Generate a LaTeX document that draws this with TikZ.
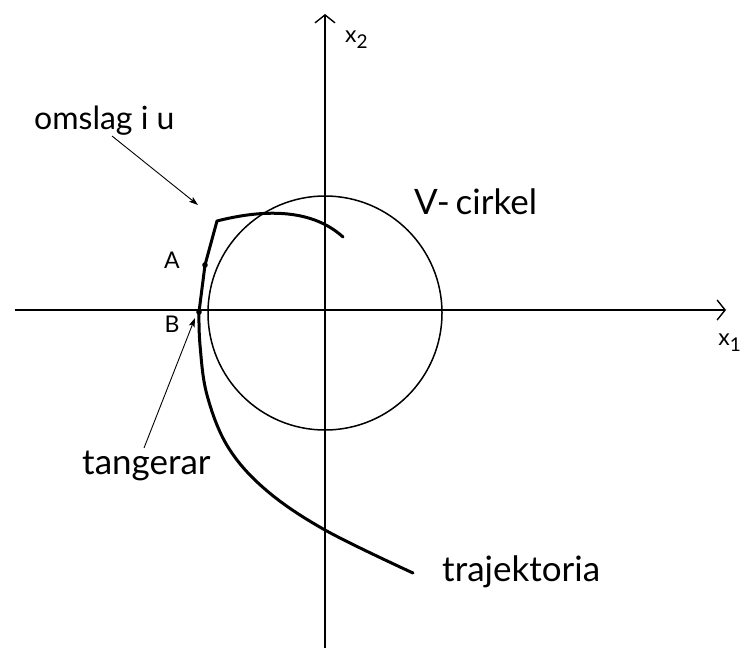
\documentclass[tikz,border=0pt]{standalone}
\usepackage{fontspec}
\setmainfont{Lato}
\usetikzlibrary{arrows.meta}
\tikzset{
  axis/.style={line width=1.4pt,-{Straight Barb[length=8pt,width=20pt,line width=1.4pt]}},
  traj/.style={line width=3pt,line cap=round,line join=round},
  vcirc/.style={line width=1.5pt},
  note/.style={line width=0.9pt,-{Stealth[length=9pt,width=6pt,inset=2pt]}},
  hand/.style={font=\fontsize{35}{40}\selectfont, inner sep=0pt},
  lab/.style={font=\fontsize{23}{26}\selectfont, inner sep=0pt}
}
\begin{document}
\begin{tikzpicture}[x=1pt,y=-1pt]
\useasboundingbox (0,0) rectangle (743,651);
% axes
\coordinate (xs) at (15,310);
\coordinate (xe) at (726,310);
\coordinate (ys) at (325,648);
\coordinate (ye) at (325,14);
\draw[axis] (xs) -- (xe);
\draw[axis] (ys) -- (ye);
\node[lab,anchor=east] (x1) at (741,343) {x\raisebox{-0.5ex}{\fontsize{19}{22}\selectfont 1}};
\node[lab,anchor=west] (x2) at (345,40) {x\raisebox{-0.5ex}{\fontsize{19}{22}\selectfont 2}};
% circle
\coordinate (O) at (325,313);
\draw[vcirc] (O) circle[radius=117];
\node[hand,anchor=west] (vc) at (414,202) {V-\,cirkel};
% trajectory
\coordinate (B) at (199,312);
\coordinate (A) at (205,265);
\coordinate (K) at (217,221);
\draw[traj] plot[smooth,tension=0.6] coordinates {(413,573) (325,530) (266,490) (228,447) (207,395) (200,345) (B)}
  -- (A) -- (K) .. controls (260,210) and (310,207) .. (343,237);
\fill (A) circle[radius=2.8];
\fill (B) circle[radius=2.8];
\node[lab] (Alab) at (172,260) {A};
\node[lab] (Blab) at (172,324) {B};
% annotations
\node[hand,anchor=west,font=\fontsize{32}{36}\selectfont] (oms) at (34,121) {omslag i u};
\node[hand,anchor=west] (tan) at (82,466) {tangerar};
\node[hand,anchor=west] (traj) at (442,572) {trajektoria};
\coordinate (omsEnd) at (198,205);
\coordinate (tanEnd) at (195,318);
\draw[note] (112,136) -- (omsEnd);
\draw[note] (144,448) -- (tanEnd);
\end{tikzpicture}
\end{document}
